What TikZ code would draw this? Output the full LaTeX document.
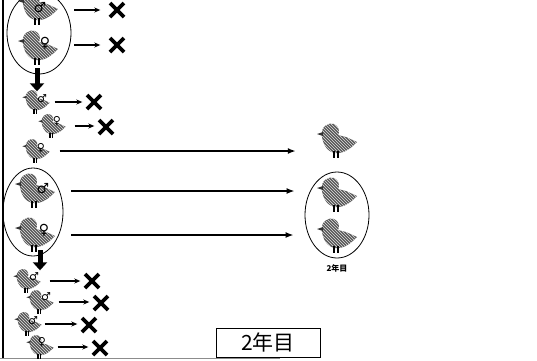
\documentclass[tikz,border=0pt]{standalone}
\usepackage{fontspec}
\newfontfamily\cjk{Noto Sans CJK JP}
\newfontfamily\symf{DejaVu Sans}
\usetikzlibrary{patterns,arrows.meta,shapes.geometric}

\tikzset{
  % halftone chick silhouette, facing left, origin at its centre
  chickfill/.style={preaction={fill=black!66}, pattern=north west lines, pattern color=black!12},
  chick/.pic={
    \fill[chickfill] (-15,-4) .. controls (-17,-15) and (-8,-19) .. (-3,-17)
      .. controls (2,-15) and (3,-9) .. (1,-6) -- (9,-4) -- (20,1)
      .. controls (15,6) and (10,11) .. (2,12)
      .. controls (-6,13) and (-13,8) .. (-15,-4) -- cycle;
    \fill[black!80] (-14,-9) -- (-20,-7) -- (-14,-5) -- cycle;
    \draw[line width=1.5pt] (-3,10) -- (-3,17) (1,10) -- (1,17);
  },
  cross/.pic={\draw[line width=3.6pt] (-7,-7) -- (7,7) (-7,7) -- (7,-7);},
  bird/.style={minimum width=36pt, minimum height=30pt, inner sep=0pt},
  smallbird/.style={minimum width=25pt, minimum height=21pt, inner sep=0pt},
  gsym/.style={font=\symf\bfseries\fontsize{14}{14}\selectfont, inner sep=0pt},
  smallsym/.style={font=\symf\bfseries\fontsize{11}{11}\selectfont, inner sep=0pt},
  xmark/.style={minimum size=15pt, inner sep=0pt},
  ring/.style={draw, ellipse, line width=0.8pt, inner sep=0pt},
  shortarrow/.style={line width=1.6pt, -{Stealth[length=6pt,width=5pt]}, shorten <=6pt, shorten >=4pt},
  longarrow/.style={line width=1.7pt, -{Latex[length=8pt,width=6pt]}},
  downarrow/.style={line width=5pt, -{Triangle[length=8pt,width=14pt]}},
  yearbox/.style={draw, line width=0.8pt, minimum width=104pt, minimum height=29pt, inner sep=0pt,
    font=\cjk\fontsize{21}{21}\selectfont},
  yearlabel/.style={inner sep=0pt, font=\cjk\bfseries\fontsize{8}{8}\selectfont},
}

\begin{document}
\begin{tikzpicture}[x=1pt, y=-1pt]
\useasboundingbox (0,0) rectangle (537,360);

% frame edges
\draw[line width=1.5pt] (3,0) -- (3,358);
\draw[line width=1.2pt, black!45] (0,358.5) -- (280,358.5);

% ---- first pair and its offspring ----
\node[ring, minimum width=64pt, minimum height=82pt] (e1) at (39,33) {};
\node[bird] (b1) at (38,8) {};  \pic at (b1) {chick};
\node[gsym] (s1) at ([shift={(2,0)}]b1) {♂};
\node[bird] (b2) at (38,48) {}; \pic at (b2) {chick};
\node[gsym] (s2) at ([shift={(7,-5)}]b2) {♀};
\node[xmark] (x1) at (117,10) {}; \pic at (x1) {cross};
\node[xmark] (x2) at (117,45) {}; \pic at (x2) {cross};
\draw[shortarrow, shorten <=18pt, shorten >=9pt] (b1.east |- x1) -- (x1);
\draw[shortarrow, shorten <=18pt, shorten >=9pt] (b2.east |- x2) -- (x2);

\node[smallbird] (b3) at (36,102) {}; \pic[scale=0.68] at (b3) {chick};
\node[smallsym] (s3) at ([shift={(6,-3)}]b3) {♂};
\node[smallbird] (b4) at (52,126) {}; \pic[scale=0.68] at (b4) {chick};
\node[smallsym] (s4) at ([shift={(5,-5)}]b4) {♀};
\node[smallbird] (b5) at (36,151) {}; \pic[scale=0.68] at (b5) {chick};
\node[smallsym] (s5) at ([shift={(5,-3)}]b5) {♀};
\node[xmark] (x3) at (94,102) {}; \pic at (x3) {cross};
\node[xmark] (x4) at (106,127) {}; \pic at (x4) {cross};
\draw[downarrow, shorten <=5pt] ([xshift=-1pt]b2.south) -- ([xshift=-1pt]b2.south |- b3.north);
\draw[shortarrow] (b3.east) -- (b3.east -| x3.west);
\draw[shortarrow, shorten <=10pt] (b4.east) -- (b4.east -| x4.west);

% ---- second pair ----
\node[ring, minimum width=60pt, minimum height=88pt] (e2) at (33,212) {};
\node[bird] (b6) at (35,191) {}; \pic at (b6) {chick};
\node[gsym] (s6) at ([shift={(8,-2)}]b6) {♂};
\node[bird] (b7) at (35,235) {}; \pic at (b7) {chick};
\node[gsym] (s7) at ([shift={(9,-5)}]b7) {♀};

% ---- survivors in the second year ----
\node[bird] (r1) at (337,141) {}; \pic at (r1) {chick};
\node[ring, minimum width=64pt, minimum height=86pt] (e3) at (337,215) {};
\node[bird] (r2) at (337,195) {}; \pic at (r2) {chick};
\node[bird] (r3) at (337,236) {}; \pic at (r3) {chick};
\node[yearlabel] (l1) at (337,268) {2年目};

\draw[longarrow, shorten <=11pt, shorten >=23pt] (b5.east) -- (b5.east -| r1.west);
\draw[longarrow, shorten <=18pt, shorten >=10pt] (b6.east) -- (b6.east -| e3.west);
\draw[longarrow, shorten <=18pt, shorten >=11pt] (b7.east) -- (b7.east -| e3.west);

% ---- offspring of the second pair ----
\node[smallbird] (b8) at (27,281) {};  \pic[scale=0.68] at (b8) {chick};
\node[smallsym] (s8) at ([shift={(7,-4)}]b8) {♂};
\node[smallbird] (b9) at (40,302) {};  \pic[scale=0.68] at (b9) {chick};
\node[smallsym] (s9) at ([shift={(6,-5)}]b9) {♂};
\node[smallbird] (b10) at (28,324) {}; \pic[scale=0.68] at (b10) {chick};
\node[smallsym] (s10) at ([shift={(5,-3)}]b10) {♂};
\node[smallbird] (b11) at (40,347) {}; \pic[scale=0.68] at (b11) {chick};
\node[smallsym] (s11) at ([shift={(2,-5)}]b11) {♀};
\node[xmark] (x8) at (92,281) {};  \pic at (x8) {cross};
\node[xmark] (x9) at (101,303) {}; \pic at (x9) {cross};
\node[xmark] (x10) at (89,325) {}; \pic at (x10) {cross};
\node[xmark] (x11) at (100,348) {}; \pic at (x11) {cross};
\draw[downarrow] ([xshift=5pt]b7.south) -- ([xshift=5pt]b7.south |- b8.north);
\draw[shortarrow, shorten <=10pt] (b8.east) -- (b8.east -| x8.west);
\draw[shortarrow, shorten <=6pt] (b9.east) -- (b9.east -| x9.west);
\draw[shortarrow, shorten <=4pt] (b10.east) -- (b10.east -| x10.west);
\draw[shortarrow, shorten <=5pt] (b11.east) -- (b11.east -| x11.west);

% year caption
\node[yearbox] (yb) at (268,342.5) {2年目};
\end{tikzpicture}
\end{document}
